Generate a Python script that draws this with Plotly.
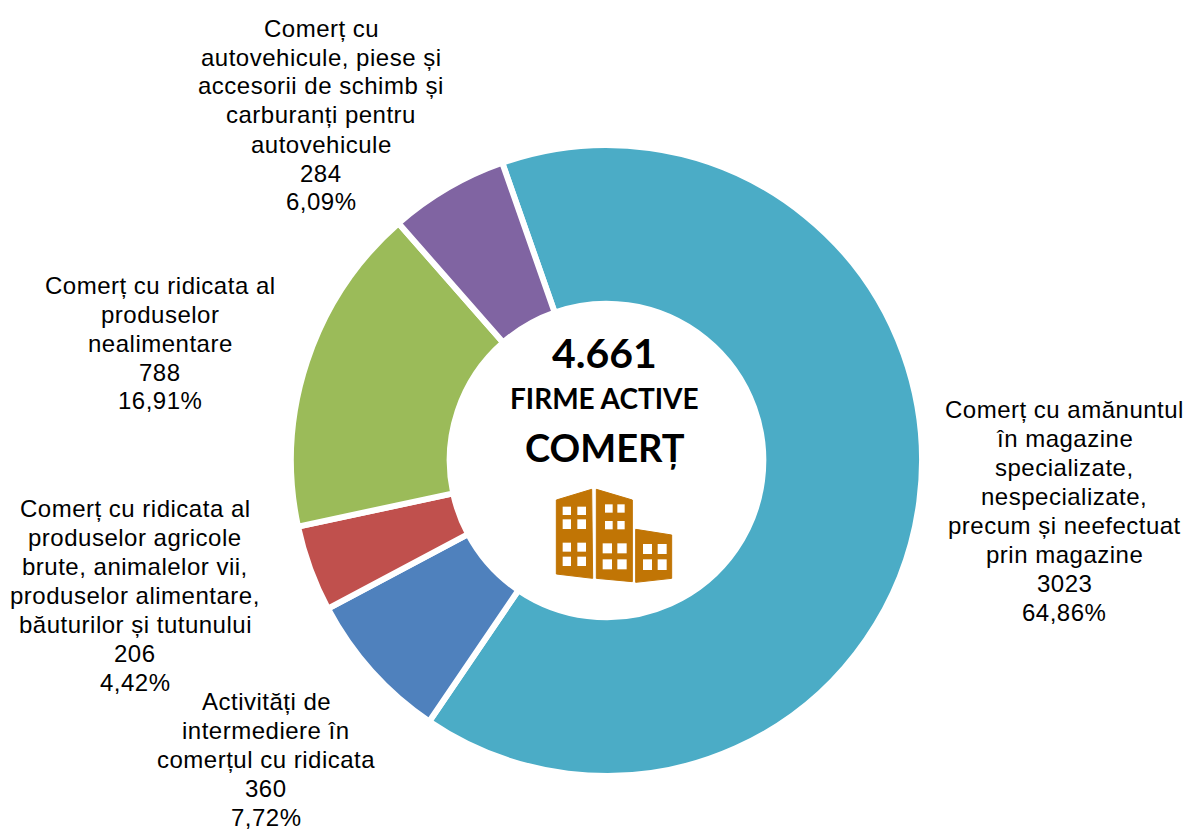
import plotly.graph_objects as go

W, H = 1187, 830

categories = [['Comerț cu amănuntul', 'în magazine', 'specializate,', 'nespecializate,', 'precum și neefectuat', 'prin magazine'],
              ['Activități de', 'intermediere în', 'comerțul cu ridicata'],
              ['Comerț cu ridicata al', 'produselor agricole', 'brute, animalelor vii,', 'produselor alimentare,', 'băuturilor și tutunului'],
              ['Comerț cu ridicata al', 'produselor', 'nealimentare'],
              ['Comerț cu', 'autovehicule, piese și', 'accesorii de schimb și', 'carburanți pentru', 'autovehicule']]
values = [3023, 360, 206, 788, 284]
percents = ['64,86%', '7,72%', '4,42%', '16,91%', '6,09%']
colors = ['#4BACC6', '#4F81BD', '#C0504D', '#9BBB59', '#8064A2']
label_pos = [(1064, 511), (266, 759), (135, 595), (160, 343), (321, 115)]

ICON = '#C17505'
LINE = 29

def px(x, y):
    return x / W, 1 - y / H

def poly(points):
    d = ''
    for i, (x, y) in enumerate(points):
        a, b = px(x, y)
        d += ('M' if i == 0 else 'L') + f'{a:.5f},{b:.5f} '
    return d + 'Z'

def zoom_pt(x, y):
    return 480 + x / 3, 320 + y / 3

def zoom_rects(xs, ys):
    out = []
    for x0, x1 in xs:
        for y0, y1 in ys:
            out.append(poly([zoom_pt(x0, y0), zoom_pt(x1, y0), zoom_pt(x1, y1), zoom_pt(x0, y1)]))
    return out

def label(txt, x, y, size, family='Liberation Sans'):
    fig.add_annotation(x=px(x, y)[0], y=px(x, y)[1], xref='paper', yref='paper', showarrow=False,
                       xanchor='center', yanchor='middle', text=txt,
                       font=dict(family=family, size=size, color='black'))

buildings = [
    [(229, 540), (335, 508), (338, 775), (229, 762)],
    [(349, 508), (457, 540), (457, 785), (349, 775)],
    [(467, 628), (575, 645), (575, 775), (467, 787)],
]
windows = (zoom_rects([(248, 273), (292, 318)], [(560, 585), (598, 627), (668, 695), (710, 738)])
           + zoom_rects([(375, 398), (412, 434)], [(553, 578), (603, 628)])
           + zoom_rects([(368, 396), (412, 440)], [(670, 700), (718, 748)])
           + zoom_rects([(489, 516), (533, 560)], [(672, 702), (718, 750)]))

R = 315.5
CX, CY = 606.5, 460.5
x0, y1 = px(CX - R, CY - R)
x1, y0 = px(CX + R, CY + R)
fig = go.Figure(go.Pie(values=values, marker=dict(colors=colors, line=dict(color='white', width=6)),
                       hole=0.497, sort=False, direction='clockwise', rotation=-19.3,
                       textinfo='none', hoverinfo='percent', showlegend=False,
                       domain=dict(x=[x0, x1], y=[y0, y1])))

for cat, v, p, (x, y) in zip(categories, values, percents, label_pos):
    lines = cat + [str(v), p]
    top = y - LINE * (len(lines) - 1) / 2
    for i, ln in enumerate(lines):
        label(f'<span style="letter-spacing:0.5px">{ln}</span>', x, top + i * LINE, 24)

for txt, y, size in [('4.661', 352, 41), ('FIRME ACTIVE', 398, 28), ('COMERȚ', 447, 38)]:
    label(f'<b>{txt}</b>', 605, y, size, 'Lato')

for b in buildings:
    fig.add_shape(type='path', xref='paper', yref='paper', layer='above',
                  path=poly([zoom_pt(*c) for c in b]), fillcolor=ICON, line=dict(color=ICON, width=1))
for w in windows:
    fig.add_shape(type='path', xref='paper', yref='paper', layer='above',
                  path=w, fillcolor='white', line=dict(width=0))

fig.update_layout(width=W, height=H, margin=dict(l=0, r=0, t=0, b=0),
                  paper_bgcolor='white', plot_bgcolor='white')
# drop the page's 8px body margin so the figure fills the window
fig.write_html("out.html", config=dict(displayModeBar=False),
               post_script="document.body.style.margin='0';document.body.style.overflow='hidden';")
